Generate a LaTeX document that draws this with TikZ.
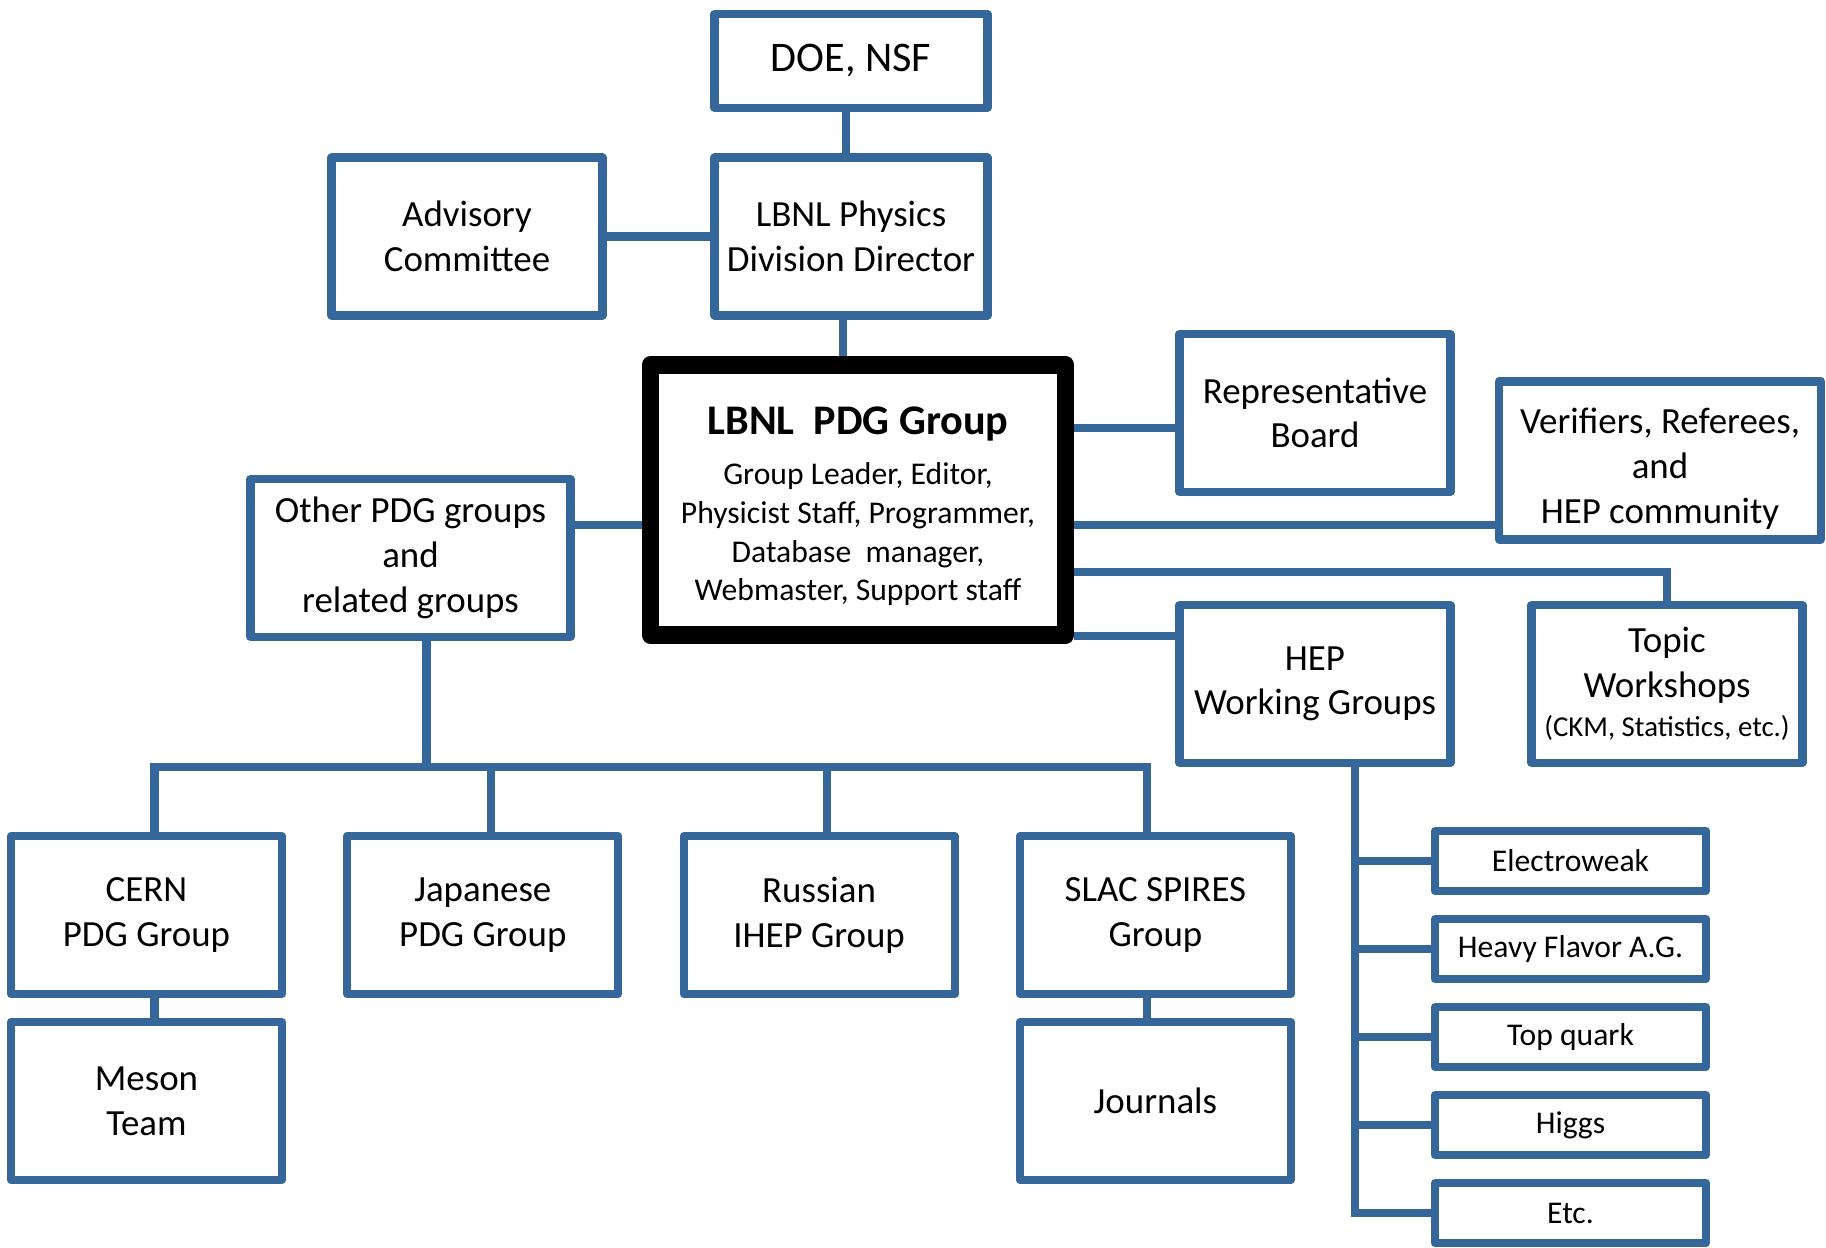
\documentclass[tikz,border=0pt]{standalone}
\usepackage{fontspec}
\setmainfont{Carlito}
\usetikzlibrary{positioning}
\definecolor{pdgblue}{RGB}{53,103,154}

\begin{document}
\begin{tikzpicture}[on grid,
  box/.style={rectangle,draw=pdgblue,line width=2.3pt,line join=round,fill=white,align=center,inner sep=0pt,minimum width=2.71cm,minimum height=1.58cm,font=\fontsize{10.5}{12.7}\selectfont},
  wide/.style={box,minimum width=3.20cm},
  small/.style={box,minimum height=0.60cm,font=\fontsize{9}{11}\selectfont},
  main/.style={rectangle,draw=black,line width=5.1pt,line join=round,fill=white,align=center,inner sep=0pt,minimum width=4.15cm,minimum height=2.70cm,font=\fontsize{9}{11}\selectfont},
  link/.style={draw=pdgblue,line width=2.3pt}]
	\useasboundingbox (0,0) rectangle (18.26,-12.48);

	% top of the chart
	\node[box,minimum width=2.73cm,minimum height=0.94cm,font=\fontsize{12}{14}\selectfont] (doe) at (8.51,-0.61) {DOE, NSF};
	\node[box,minimum width=2.73cm] (phys) [below=1.755 of doe] {LBNL Physics\\Division Director};
	\node[box] (adv) [left=3.84 of phys] {Advisory\\Committee};
	\node[main] (pdg) at (8.58,-5.00) {{\fontsize{12}{14}\selectfont\bfseries\rule{0pt}{11.5pt}LBNL\ \ PDG Group}\\[3.3pt] Group Leader, Editor,\\Physicist Staff, Programmer,\\Database\ \ manager,\\Webmaster, Support staff};

	% right side
	\node[box] (rep) at (13.15,-4.13) {Representative\\Board};
	\node[wide,minimum width=3.22cm,font=\fontsize{10.5}{12.9}\selectfont] (ver) [below right=0.475 and 3.45 of rep] {\rule{0pt}{12pt}Verifiers, Referees,\\and\\HEP community};
	\node[box] (hep) [below=2.71 of rep] {HEP\\Working Groups};
	\node[box] (topic) [right=3.52 of hep] {Topic\\Workshops\\[-1.5pt]{\fontsize{8.2}{10}\selectfont (CKM, Statistics, etc.)}};

	% left side and groups
	\node[wide] (other) at (4.105,-5.58) {Other PDG groups\\and\\related groups};
	\node[box] (cern) at (1.465,-9.15) {CERN\\PDG Group};
	\node[box] (jap) [right=3.363 of cern] {Japanese\\PDG Group};
	\node[box] (rus) [right=3.363 of jap] {Russian\\IHEP Group};
	\node[box] (slac) [right=3.363 of rus] {SLAC SPIRES\\Group};
	\node[box] (meson) [below=1.86 of cern] {Meson\\Team};
	\node[box] (jour) [below=1.86 of slac] {Journals};

	% working groups
	\node[small] (ew) at (15.705,-8.61) {Electroweak};
	\node[small] (hf) [below=0.88 of ew] {Heavy Flavor A.G.};
	\node[small] (topq) [below=0.88 of hf] {Top quark};
	\node[small] (higgs) [below=0.88 of topq] {Higgs};
	\node[small] (etc) [below=0.88 of higgs] {Etc.};

	% connectors
	\draw[link] (adv) -- (phys);
	\draw[link] ([xshift=-0.5mm]doe.south) -- ([xshift=-0.5mm]phys.north);
	\draw[link] ([xshift=-0.8mm]phys.south) -- ([xshift=-0.8mm]phys.south |- pdg.north);
	\draw[link] ([yshift=3.3mm]other.east) -- ([yshift=3.3mm]other.east -| pdg.west);
	\draw[link] ([yshift=7.2mm]pdg.east) -- ([yshift=7.2mm]pdg.east -| rep.west);
	\draw[link] ([yshift=-2.5mm]pdg.east) -- ([yshift=-2.5mm]pdg.east -| ver.west);
	\draw[link] ([yshift=-7.2mm]pdg.east) -| (topic.north);
	\draw[link] ([yshift=-13.6mm]pdg.east) -- ([yshift=-13.6mm]pdg.east -| hep.west);
	\draw[link] ([xshift=1.6mm]other.south) -- ++(0,-1.26) coordinate (bus);
	\draw[link] ([xshift=0.8mm]cern.north) |- (bus) -| ([xshift=-0.8mm]slac.north);
	\draw[link] ([xshift=0.8mm]jap.north) -- ([xshift=0.8mm]jap.north |- bus);
	\draw[link] ([xshift=0.8mm]rus.north) -- ([xshift=0.8mm]rus.north |- bus);
	\draw[link] ([xshift=0.8mm]cern.south) -- ([xshift=0.8mm]meson.north);
	\draw[link] ([xshift=-0.8mm]slac.south) -- ([xshift=-0.8mm]jour.north);
	\coordinate (spine) at ([xshift=4mm]hep.south);
	\foreach \n in {ew,hf,topq,higgs,etc}
		\draw[link] (spine) |- (\n.west);
\end{tikzpicture}
\end{document}
